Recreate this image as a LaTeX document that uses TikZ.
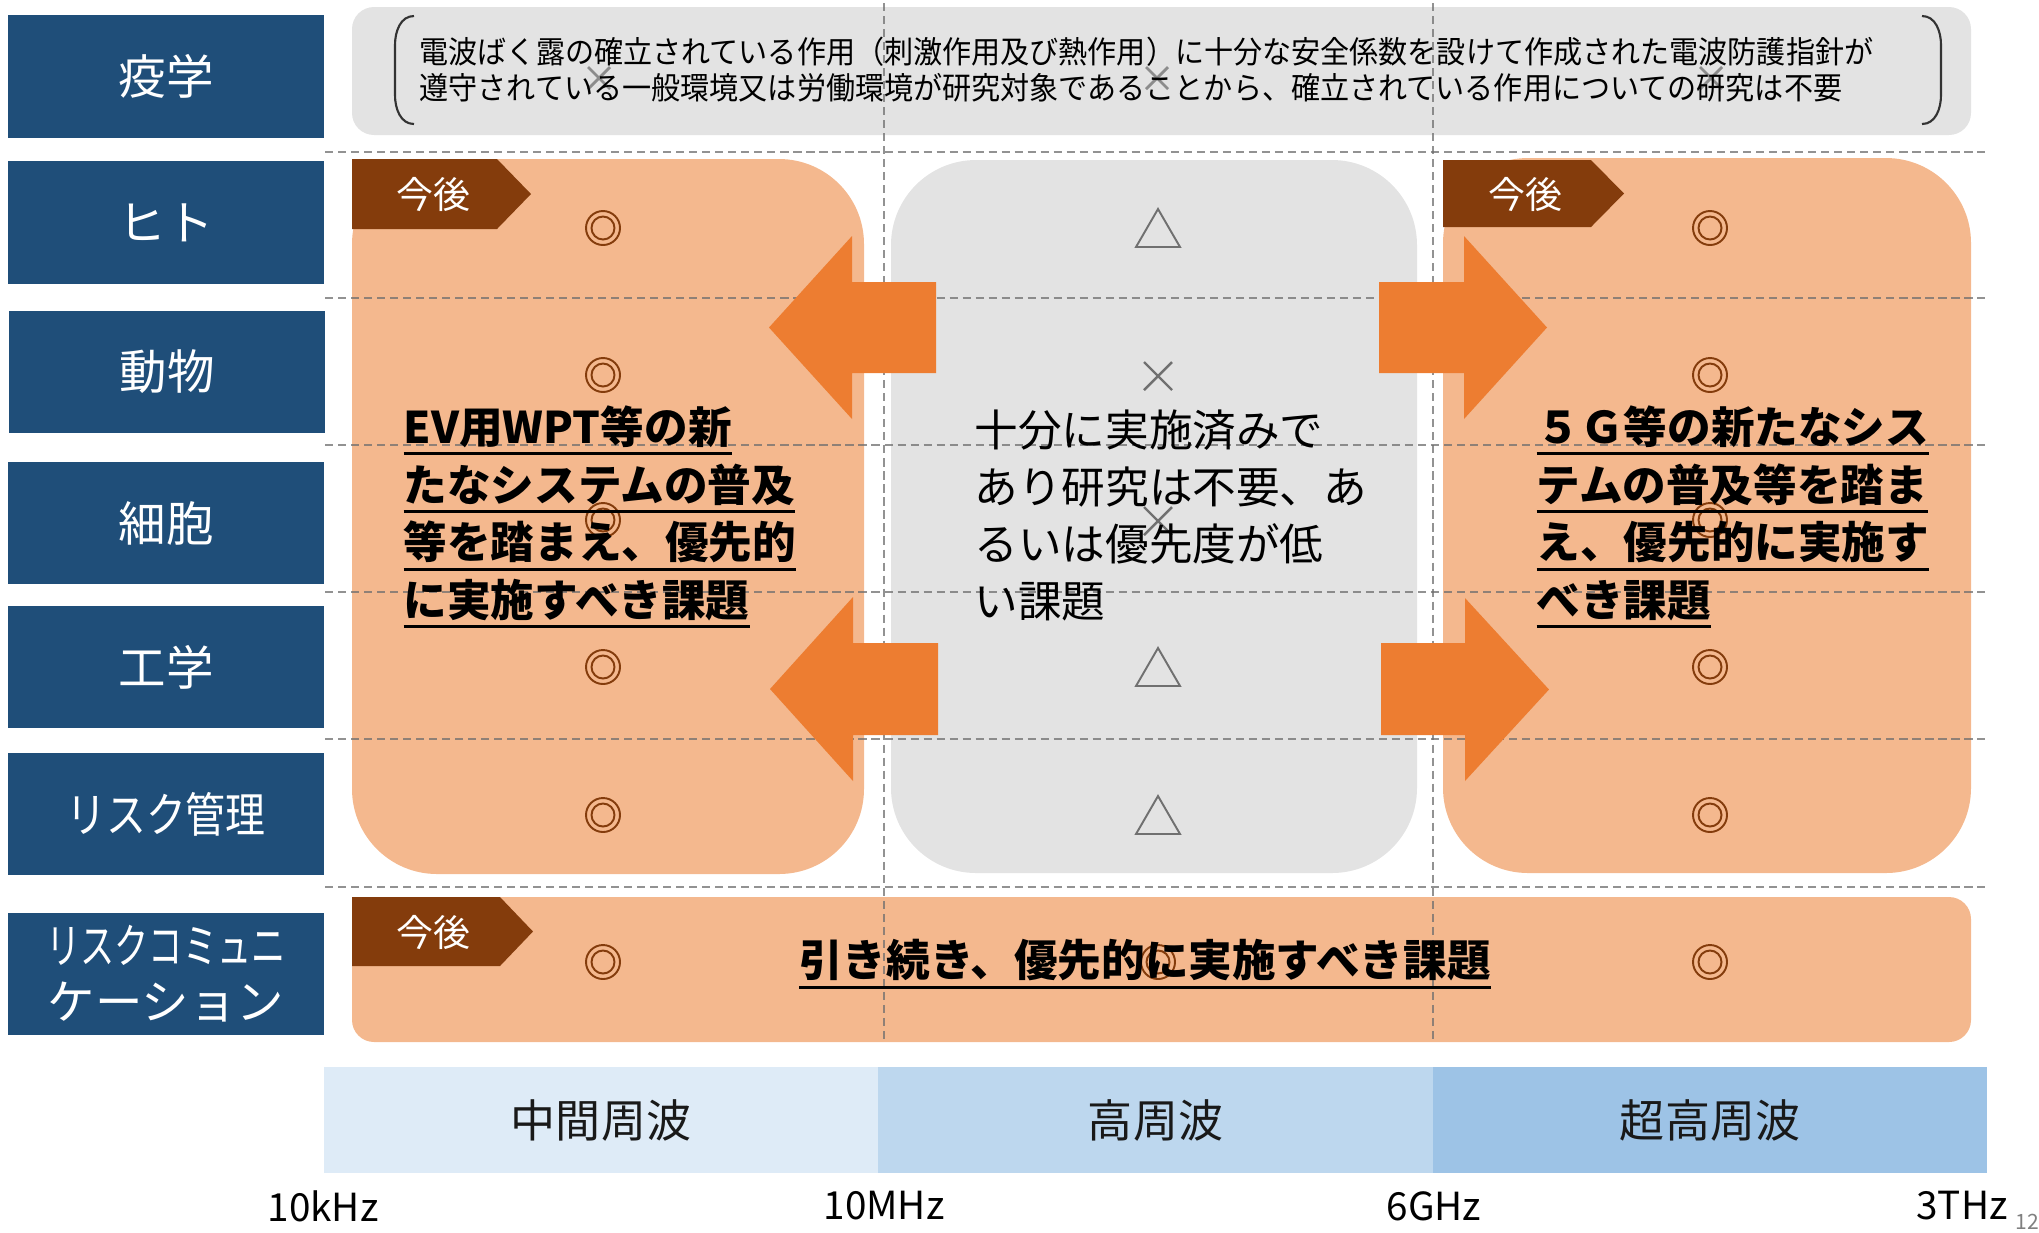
\documentclass[tikz,border=0pt]{standalone}
\usepackage{fontspec}
\usepackage{graphicx}
\setmainfont{Noto Sans CJK JP}
\newfontfamily\jpn[FakeStretch=0.94]{Noto Sans CJK JP}
\newfontfamily\jpc[FakeStretch=0.84]{Noto Sans CJK JP}
\newfontfamily\jpcc[FakeStretch=0.72]{Noto Sans CJK JP}
\newcommand\fs[2]{\fontsize{#1}{#2}\selectfont}
\newcommand\ulx[1]{\setbox0=\hbox{#1}\leavevmode\rlap{\rule[-0.27em]{\wd0}{0.07em}}\box0}
\definecolor{navy}{HTML}{1F4E79}
\definecolor{gbox}{HTML}{E3E3E3}
\definecolor{peach}{HTML}{F4B88E}
\definecolor{tagbrown}{HTML}{843C0C}
\definecolor{arrowc}{HTML}{ED7D31}
\definecolor{dlc}{HTML}{6E6E6E}
\definecolor{fbA}{HTML}{DEEBF7}
\definecolor{fbB}{HTML}{BDD7EE}
\definecolor{fbC}{HTML}{9DC3E6}
\definecolor{symg}{HTML}{707070}
\begin{document}
\begin{tikzpicture}[x=0.01cm,y=-0.01cm,
  lab/.style={fill=navy, text=white, minimum width=3.16cm, minimum height=1.22cm, inner sep=0pt, align=center, font=\fs{13.5}{16}},
  dl/.style={draw=dlc, line width=0.6pt, dash pattern=on 2.3pt off 1.4pt, opacity=0.75},
  tagshape/.style={fill=tagbrown},
  tagtext/.style={text=white, inner sep=0pt, font=\fs{10.5}{12}},
  boldtxt/.style={anchor=west, align=left, inner sep=0pt, font=\bfseries\fs{12.4}{16.4}},
  midtxt/.style={anchor=west, align=left, inner sep=0pt, font=\fs{12.4}{16.2}},
  bandbox/.style={minimum width=5.545cm, minimum height=1.06cm, inner sep=0pt, font=\fs{12.8}{15}, text=black!90},
  freqnum/.style={inner sep=0pt, font=\fs{11}{13}},
  dc/.pic={\draw[tagbrown, line width=0.55pt] (0,0) circle[radius=17] (0,0) circle[radius=11.5];},
  tri/.pic={\draw[symg, line width=0.55pt] (-22,19) -- (22,19) -- (0,-19) -- cycle;},
  crs/.pic={\draw[symg, line width=0.7pt] (-14,-14) -- (14,14) (-14,14) -- (14,-14);},
  crss/.pic={\draw[black!45, line width=0.8pt] (-11,-11) -- (11,11) (-11,11) -- (11,-11);}
]
\useasboundingbox (0,0) rectangle (2039,1232);

% row labels
\node[lab] (l1) at (166,76.5) {疫学};
\node[lab] (l2) at (166,222.5) {ヒト};
\node[lab] (l3) at (167,372) {動物};
\node[lab] (l4) at (166,523) {細胞};
\node[lab] (l5) at (166,667) {工学};
\node[lab] (l6) at (166,814) {\jpc リスク管理};
\node[lab] (l7) at (166,974) {\jpcc リスクコミュニ\\ケーション};

% top gray box
\path[fill=gbox, rounded corners=0.22cm] (352,7) rectangle (1971,135);

% big boxes
\path[fill=peach, rounded corners=0.85cm] (352,500) -- (352,874) -- (864,874) -- (864,159) -- (352,159) [sharp corners] -- cycle;
\path[fill=gbox, rounded corners=0.85cm] (891,160) rectangle (1417,873);
\path[fill=peach, rounded corners=0.85cm] (1443,500) -- (1443,873) -- (1971,873) -- (1971,158) -- (1443,158) [sharp corners] -- cycle;
\path[fill=peach, rounded corners=0.22cm] (352,920) -- (352,1042) -- (1971,1042) -- (1971,897) -- (352,897) [sharp corners] -- cycle;

% tags
\path[tagshape] (352,159) -- (497,159) -- (531,194) -- (497,229) -- (352,229) -- cycle;
\path[tagshape] (1443,160) -- (1591,160) -- (1624,193.5) -- (1591,227) -- (1443,227) -- cycle;
\path[tagshape] (352,897) -- (500,897) -- (533,931.5) -- (500,966) -- (352,966) -- cycle;
\node[tagtext] (t1) at (433,194) {今後};
\node[tagtext] (t2) at (1525,194) {今後};
\node[tagtext] (t3) at (433,932) {今後};

% grid lines
\foreach \yy in {152,298,445,592,739,887} \draw[dl] (325,\yy) -- (1985,\yy);
\foreach \xx in {884,1433} \draw[dl] (\xx,3) -- (\xx,1040);

% block arrows
\path[fill=arrowc] (936,282) -- (852,282) -- (852,236) -- (769,327.5) -- (852,419) -- (852,373) -- (936,373) -- cycle;
\path[fill=arrowc] (938,643) -- (853,643) -- (853,597) -- (770,689) -- (853,781) -- (853,735) -- (938,735) -- cycle;
\path[fill=arrowc] (1379,282) -- (1464,282) -- (1464,236) -- (1547,327.5) -- (1464,419) -- (1464,373) -- (1379,373) -- cycle;
\path[fill=arrowc] (1381,643) -- (1465,643) -- (1465,598) -- (1549,689.5) -- (1465,781) -- (1465,735) -- (1381,735) -- cycle;

% symbols
\foreach \yy in {228,375,520,667,815,962} {
  \pic at (603,\yy) {dc};
  \pic at (1710,\yy) {dc};
}
\pic at (1158,228) {tri};
\pic at (1158,376) {crs};
\pic at (1158,521) {crs};
\pic at (1158,667) {tri};
\pic at (1158,815) {tri};
\pic at (1158,962) {dc};
\pic at (599,78) {crss};
\pic at (1157,78) {crss};
\pic at (1711,78) {crss};

% brackets and top text
\draw[black!80, line width=0.6pt] (414,16) to[out=180,in=90] (395,45) -- (395,95) to[out=-90,in=180] (414,124);
\draw[black!80, line width=0.6pt] (1922,16) to[out=0,in=90] (1941,45) -- (1941,95) to[out=-90,in=0] (1922,124);
\node[anchor=west, align=left, inner sep=0pt, font=\jpn\fs{8.8}{10.25}] (epitext) at (419,70)
  {電波ばく露の確立されている作用（刺激作用及び熱作用）に十分な安全係数を設けて作成された電波防護指針が\\遵守されている一般環境又は労働環境が研究対象であることから、確立されている作用についての研究は不要};

% box texts
\node[boldtxt] (lt) at (403,517) {\ulx{EV用WPT等の新}\\\ulx{たなシステムの普及}\\\ulx{等を踏まえ、優先的}\\\ulx{に実施すべき課題}};
\node[midtxt] (mt) at (974,515) {十分に実施済みで\\あり研究は不要、あ\\るいは優先度が低\\い課題};
\node[boldtxt] (rt) at (1536,517) {\ulx{５Ｇ等の新たなシス}\\\ulx{テムの普及等を踏ま}\\\ulx{え、優先的に実施す}\\\ulx{べき課題}};
\node[inner sep=0pt, font=\bfseries\fs{12.4}{15}] (bt) at (1145,964) {\ulx{引き続き、優先的に実施すべき課題}};

% frequency bands
\node[bandbox, fill=fbA] (f1) at (601,1120) {中間周波};
\node[bandbox, fill=fbB] (f2) at (1155.5,1120) {高周波};
\node[bandbox, fill=fbC] (f3) at (1710,1120) {超高周波};
\node[freqnum] (n1) at (323,1206) {10kHz};
\node[freqnum] (n2) at (884,1206) {10MHz};
\node[freqnum] (n3) at (1434,1206) {6GHz};
\node[freqnum] (n4) at (1962,1206) {3THz};
\node[anchor=west, inner sep=0pt, font=\fs{6}{7}, text=black!50] (pg) at (2015,1222) {12};
\end{tikzpicture}
\end{document}
